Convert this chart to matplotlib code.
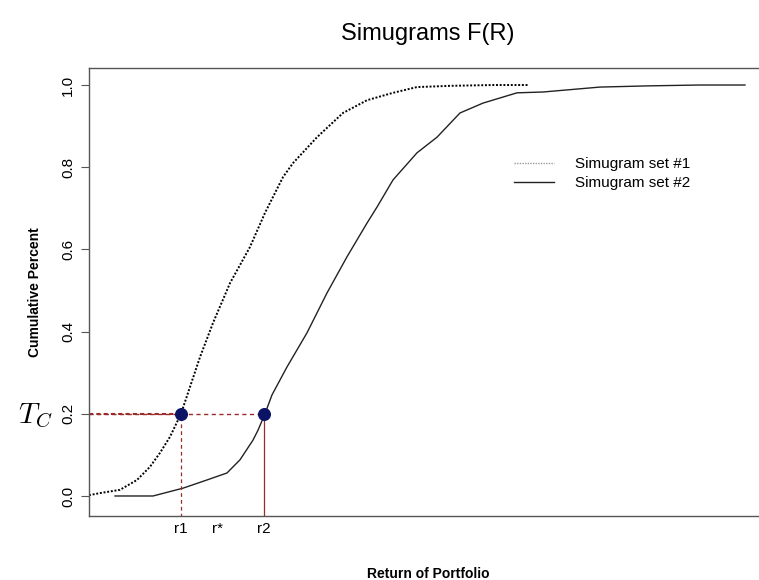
import numpy as np
import matplotlib.pyplot as plt

# данные (условные единицы доходности)
x_set1 = [0, 1.1, 3.1, 4.8, 6.1, 7.1, 8.1, 9.2, 11.1, 12.4, 14.1, 16.1, 17.6,
          19.4, 20.4, 22.8, 25.4, 27.8, 30.4, 32.8, 36.1, 40.4, 43.9]
y_set1 = [0.002, 0.007, 0.015, 0.039, 0.071, 0.105, 0.144, 0.2, 0.338, 0.421,
          0.518, 0.606, 0.689, 0.776, 0.81, 0.873, 0.932, 0.963, 0.981, 0.995,
          0.998, 1.0, 1.0]

x_set2 = [2.6, 6.4, 9.4, 11.8, 13.8, 15.1, 16.4, 16.9, 17.6, 18.3, 19.8, 21.8,
          23.8, 25.8, 27.8, 28.8, 30.4, 32.8, 34.8, 37.1, 39.4, 42.8, 45.4,
          51.1, 56.1, 61.1, 65.6]
y_set2 = [0.0, 0.0, 0.019, 0.039, 0.056, 0.088, 0.136, 0.16, 0.2, 0.246,
          0.314, 0.397, 0.494, 0.582, 0.664, 0.703, 0.769, 0.835, 0.873, 0.932,
          0.956, 0.981, 0.983, 0.995, 0.998, 1.0, 1.0]

Tc = 0.2
r_ticks = [9.2, 12.9, 17.5]
r_labels = ['r1', 'r*', 'r2']
y_ticks = [0.0, 0.2, 0.4, 0.6, 0.8, 1.0]

plt.rcParams['font.family'] = ['Liberation Sans', 'DejaVu Sans']
plt.rcParams['mathtext.fontset'] = 'cm'

fig = plt.figure(figsize=(7.59, 5.80), dpi=100)
ax = fig.add_axes([89 / 759, 1 - 516 / 580, 678 / 759, 448 / 580])

ax.plot(x_set1, y_set1, color='black', lw=1.4, linestyle=(0, (1, 0.9)),
        label='Simugram set #1')
ax.plot(x_set2, y_set2, color='#222222', lw=1.0, label='Simugram set #2')

# линии уровня Tc
red = '#9b2a2a'
r1, r2 = r_ticks[0], r_ticks[2]
ax.plot([0, r2], [Tc, Tc], color=red, lw=1.0, linestyle=(0, (3, 2.5)))
ax.plot([0, r1], [Tc, Tc], color=red, lw=1.5, linestyle=(0, (2, 1.5)))
ax.plot([r1, r1], [-0.05, Tc], color=red, lw=0.9, linestyle=(0, (3, 2.5)))
ax.plot([r2, r2], [-0.05, Tc], color=red, lw=0.9)
ax.scatter([r1, r2], [Tc, Tc], s=70, color='#0b1464', zorder=5)

ax.set_xlim(0, 67.8)
ax.set_ylim(-0.0487, 1.0414)

ax.set_yticks(y_ticks)
ax.set_yticklabels(['%.1f' % v for v in y_ticks], rotation=90, va='center',
                   fontsize=11)
ax.tick_params(axis='y', length=6, width=0.8, color='#555555', pad=4)
ax.set_xticks(r_ticks)
ax.set_xticklabels(r_labels, fontsize=11)
ax.tick_params(axis='x', length=0, pad=4)

for side in ['left', 'bottom', 'top']:
    ax.spines[side].set_color('#555555')
    ax.spines[side].set_linewidth(1.0)
ax.spines['right'].set_visible(False)

ax.set_title('Simugrams F(R)', fontsize=17, pad=20)
ax.set_xlabel('Return of Portfolio', fontsize=10, fontweight='bold')
ax.xaxis.set_label_coords(0.5, (516 - 574) / 448)
ax.xaxis.label.set_va('center')
ax.set_ylabel('Cumulative Percent', fontsize=10, fontweight='bold')
ax.yaxis.set_label_coords((35 - 89) / 678, 0.5)
ax.yaxis.label.set_va('center')

fig.text(35 / 759, 1 - 416 / 580, '$T_C$', fontsize=21, ha='center',
         va='center')

leg = ax.legend(loc='upper left', bbox_to_anchor=(0.607, 0.831), frameon=False,
                fontsize=11, handlelength=2.6, handletextpad=1.4,
                labelspacing=0.3)
leg.get_lines()[0].set_color('#999999')
leg.get_lines()[0].set_linewidth(1.0)

plt.savefig('out.png', dpi=100)
